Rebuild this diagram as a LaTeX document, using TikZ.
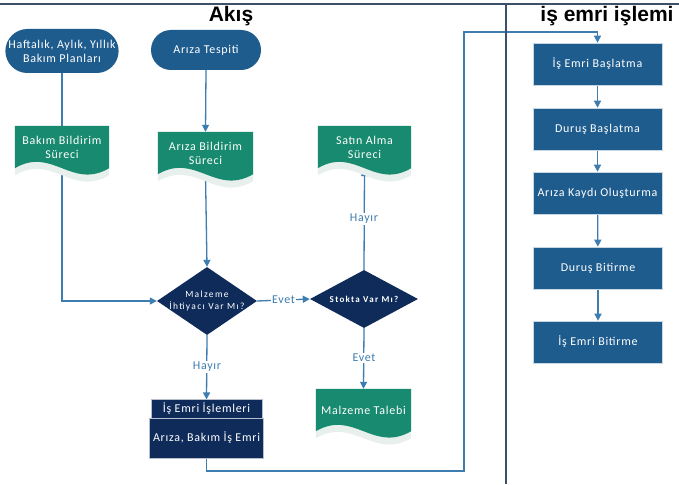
\documentclass[tikz,border=0pt]{standalone}
\usepackage{fontspec}
\setmainfont{Carlito}[LetterSpace=6.0]
\newfontfamily\titlefont{Liberation Sans}
\newfontfamily\widefont{Carlito}[LetterSpace=14.0]
\usetikzlibrary{shapes.geometric,shapes.misc,arrows.meta,calc}
\definecolor{medblue}{HTML}{1E5C8E}
\definecolor{navy}{HTML}{0E2B5A}
\definecolor{docgreen}{HTML}{188A6F}
\definecolor{linkblue}{HTML}{3D7DB0}
\definecolor{rulec}{HTML}{3C5068}
\definecolor{shadowc}{HTML}{E8F0ED}
\pgfdeclarelayer{conns}
\pgfdeclarelayer{docs}
\pgfsetlayers{conns,docs,main}
\newcommand\docshape[3]{%
  \path[#2] let \p1=(#1.north west), \p2=(#1.south east), \n1={\x2-\x1} in
    (\x1,{\y1-#3}) -- (\x2,{\y1-#3}) -- (\x2,{\y2-#3})
    .. controls ({\x2-0.4*\n1},{\y2-#3-22pt}) and ({\x1+0.4*\n1},{\y2-#3+22pt}) ..
    (\x1,{\y2-#3}) -- cycle;}
\begin{document}
\begin{tikzpicture}[x=1pt,y=-1pt,font=\fontsize{12}{14}\selectfont,
  stad/.style={rounded rectangle, fill=medblue, text=white, inner sep=0pt, align=center},
  docnode/.style={rectangle, text=white, inner sep=0pt, align=center, minimum height=42pt},
  dia/.style={diamond, fill=navy, inner sep=0pt},
  dtext/.style={text=white, align=center, font=\widefont\fontsize{9.5}{11.5}\selectfont},
  rbox/.style={rectangle, fill=medblue, text=white, draw=white!75!medblue, line width=0.6pt, minimum width=129pt, minimum height=42pt},
  nbox/.style={rectangle, fill=navy, text=white, draw=white!70!navy, line width=0.6pt, minimum width=111pt},
  conn/.style={draw=linkblue, line width=1.3pt, -{Triangle[length=7pt,width=7pt]}},
  lbl/.style={fill=white, text=linkblue, inner sep=1pt},
  titl/.style={font=\titlefont\bfseries\fontsize{21}{24}\selectfont, text=black}]
\useasboundingbox (0,0) rectangle (679,484);
\begin{pgfonlayer}{conns}
\fill[white] (0,0) rectangle (679,484);
\end{pgfonlayer}
% rules
\coordinate (tl) at (0,4); \coordinate (tr) at (679,4);
\coordinate (vt) at (506,4); \coordinate (vb) at (506,484);
\draw[rulec, line width=1.5pt] (tl) -- (tr);
\draw[rulec, line width=1.5pt] (vt) -- (vb);
% titles
\node[titl] (t1) at (231,16) {Akış};
\node[titl] (t2) at (607,16) {iş emri işlemi};
% stadiums
\node[stad, minimum width=110pt, minimum height=44pt] (plan) at (62,51) {Haftalık, Aylık, Yıllık\\Bakım Planları};
\node[stad, minimum width=110pt, minimum height=40pt] (tespit) at (206,50) {Arıza Tespiti};
% documents
\node[docnode, minimum width=94pt] (bakim) at (62,147) {Bakım Bildirim\\Süreci};
\node[docnode, minimum width=95pt] (ariza) at (205.5,153) {Arıza Bildirim\\Süreci};
\node[docnode, minimum width=93pt] (satin) at (364.5,147) {Satın Alma\\Süreci};
\node[docnode, minimum width=95pt] (talebi) at (363.5,410) {Malzeme Talebi};
\begin{pgfonlayer}{docs}
\foreach \dn in {bakim,ariza,satin,talebi}{
  \docshape{\dn}{fill=shadowc}{7pt}
  \docshape{\dn}{fill=docgreen}{0pt}
}
\end{pgfonlayer}
% diamonds
\node[dia, minimum width=100pt, minimum height=68pt] (d1) at (207,301) {};
\node[dtext] (d1t) at (d1) {Malzeme\\İhtiyacı Var Mı?};
\node[dia, minimum width=108pt, minimum height=58pt] (d2) at (364,299) {};
\node[dtext, font=\widefont\bfseries\fontsize{9}{11}\selectfont] (d2t) at (d2) {Stokta Var Mı?};
% is emri box
\node[nbox, minimum height=18pt] (ieh) at (206.5,409) {İş Emri İşlemleri};
\node[nbox, minimum height=40pt] (ieb) at (206.5,438) {Arıza, Bakım İş Emri};
% right column
\node[rbox] (r1) at (597.5,64) {İş Emri Başlatma};
\node[rbox] (r2) at (597.5,129) {Duruş Başlatma};
\node[rbox] (r3) at (597.5,193) {Arıza Kaydı Oluşturma};
\node[rbox] (r4) at (598,268) {Duruş Bitirme};
\node[rbox] (r5) at (598,342) {İş Emri Bitirme};
% connectors
\coordinate (c1) at (464,471);
\coordinate (c2) at (464,32);
\begin{pgfonlayer}{conns}
\draw[conn] (plan.south) |- (d1.west);
\draw[conn] (tespit.south) -- (ariza.north);
\draw[conn] (ariza.south) -- (d1.north);
\draw[conn] (d1.east) -- (d2.west);
\draw[conn] (d2.north) -- ($(satin.south)+(0,1)$);
\draw[conn] (d2.south) -- (talebi.north);
\draw[conn] (d1.south) -- (ieh.north);
\draw[conn] (ieb.south) |- (c1) -- (c2) -| (r1.north);
\draw[conn] (r1) -- (r2);
\draw[conn] (r2) -- (r3);
\draw[conn] (r3) -- (r4);
\draw[conn] (r4) -- (r5);
\end{pgfonlayer}
\node[lbl] (e1) at ($(d1.east)!0.5!(d2.west)$) {Evet};
\node[lbl] (h1) at (364,219) {Hayır};
\node[lbl] (e2) at (364,358) {Evet};
\node[lbl] (h2) at (207,367) {Hayır};
\end{tikzpicture}
\end{document}
